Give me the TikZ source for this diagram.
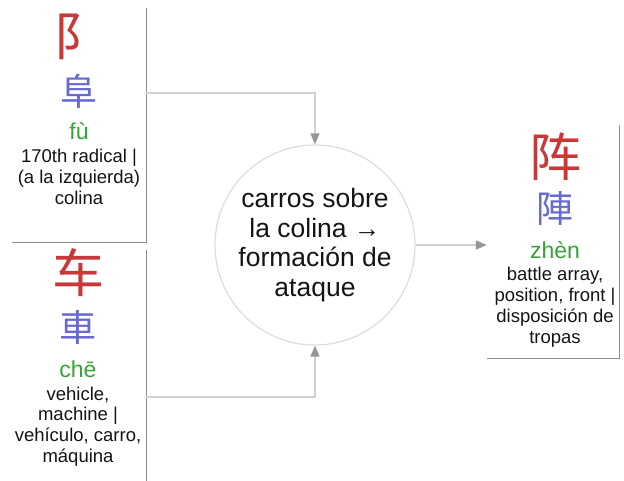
\documentclass[tikz,border=0pt]{standalone}
\usepackage{fontspec}
\setmainfont{Liberation Sans}
\newfontfamily\cjksc{Noto Sans CJK SC}
\newfontfamily\cjktc{Noto Sans CJK TC}
\usetikzlibrary{arrows.meta}
\definecolor{hanred}{RGB}{200,56,56}
\definecolor{hanblue}{RGB}{105,105,212}
\definecolor{pygreen}{RGB}{52,165,52}
\definecolor{connline}{RGB}{208,208,208}
\definecolor{connhead}{RGB}{150,150,150}
\definecolor{shadowgray}{RGB}{140,140,140}
\definecolor{circlegray}{RGB}{220,220,220}
\definecolor{textblack}{RGB}{20,20,20}
\tikzset{
  hanzi/.style={font=\cjksc\fontsize{52}{52}\selectfont, text=hanred, inner sep=0pt},
  trad/.style={font=\cjktc\fontsize{37}{37}\selectfont, text=hanblue, inner sep=0pt},
  pinyin/.style={font=\fontsize{23}{23}\selectfont, text=pygreen, inner sep=0pt, anchor=base},
  gloss/.style={font=\fontsize{18.5}{21}\selectfont, text=textblack, align=center, inner sep=0pt, anchor=north},
  cardbox/.style={inner sep=0pt},
  shadowedge/.style={draw=shadowgray, line width=1.2pt},
  conn/.style={draw=connline, line width=1.5pt, -{Triangle[length=11pt,width=9pt,color=connhead]}},
  ideacircle/.style={circle, draw=circlegray, line width=1.2pt, minimum size=200pt, inner sep=0pt,
    align=center, font=\fontsize{26.5}{29.5}\selectfont, text=textblack}
}
\begin{document}
\begin{tikzpicture}[x=1pt,y=-1pt]
\useasboundingbox (0,0) rectangle (624,480);
% cards
\node[cardbox, minimum width=134pt, minimum height=234pt] (boxA) at (79,125) {};
\node[cardbox, minimum width=134pt, minimum height=240pt] (boxB) at (79,370) {};
\node[cardbox, minimum width=132pt, minimum height=233pt] (boxC) at (553,241.5) {};
\draw[shadowedge] (boxA.north east) -- (boxA.south east) -- (boxA.south west);
\draw[shadowedge] (boxB.north east) -- (boxB.south east);
\draw[shadowedge] (boxC.north east) -- (boxC.south east) -- (boxC.south west);
% circle
\node[ideacircle] (c) at (315,245) {carros sobre\\la colina →\\formación de\\ataque};
% card A
\node[hanzi] (a1) at (79,37) {阝};
\node[trad] (a2) at (79,91) {阜};
\node[pinyin] (a3) at (79,139) {fù};
\node[gloss] (a4) at (79,148.5) {170th radical |\\(a la izquierda)\\colina};
% card B
\node[hanzi] (b1) at (78,273) {车};
\node[trad] (b2) at (78,328) {車};
\node[pinyin] (b3) at (78,377) {chē};
\node[gloss, font=\fontsize{18.5}{20.7}\selectfont] (b4) at (78,386.5) {vehicle,\\machine |\\vehículo, carro,\\máquina};
% card C
\node[hanzi] (c1) at (555,157) {阵};
\node[trad] (c2) at (555,208) {陣};
\node[pinyin] (c3) at (555,258) {zhèn};
\node[gloss] (c4) at (555,266.5) {battle array,\\position, front |\\disposición de\\tropas};
% connectors
\coordinate (pa) at (boxA.north east |- 0,93);
\coordinate (pb) at (boxB.north east |- 0,397);
\draw[conn] (pa) -| (c.north);
\draw[conn] (pb) -| (c.south);
\draw[conn] (c.east) -- (c.east -| boxC.west);
\end{tikzpicture}
\end{document}
